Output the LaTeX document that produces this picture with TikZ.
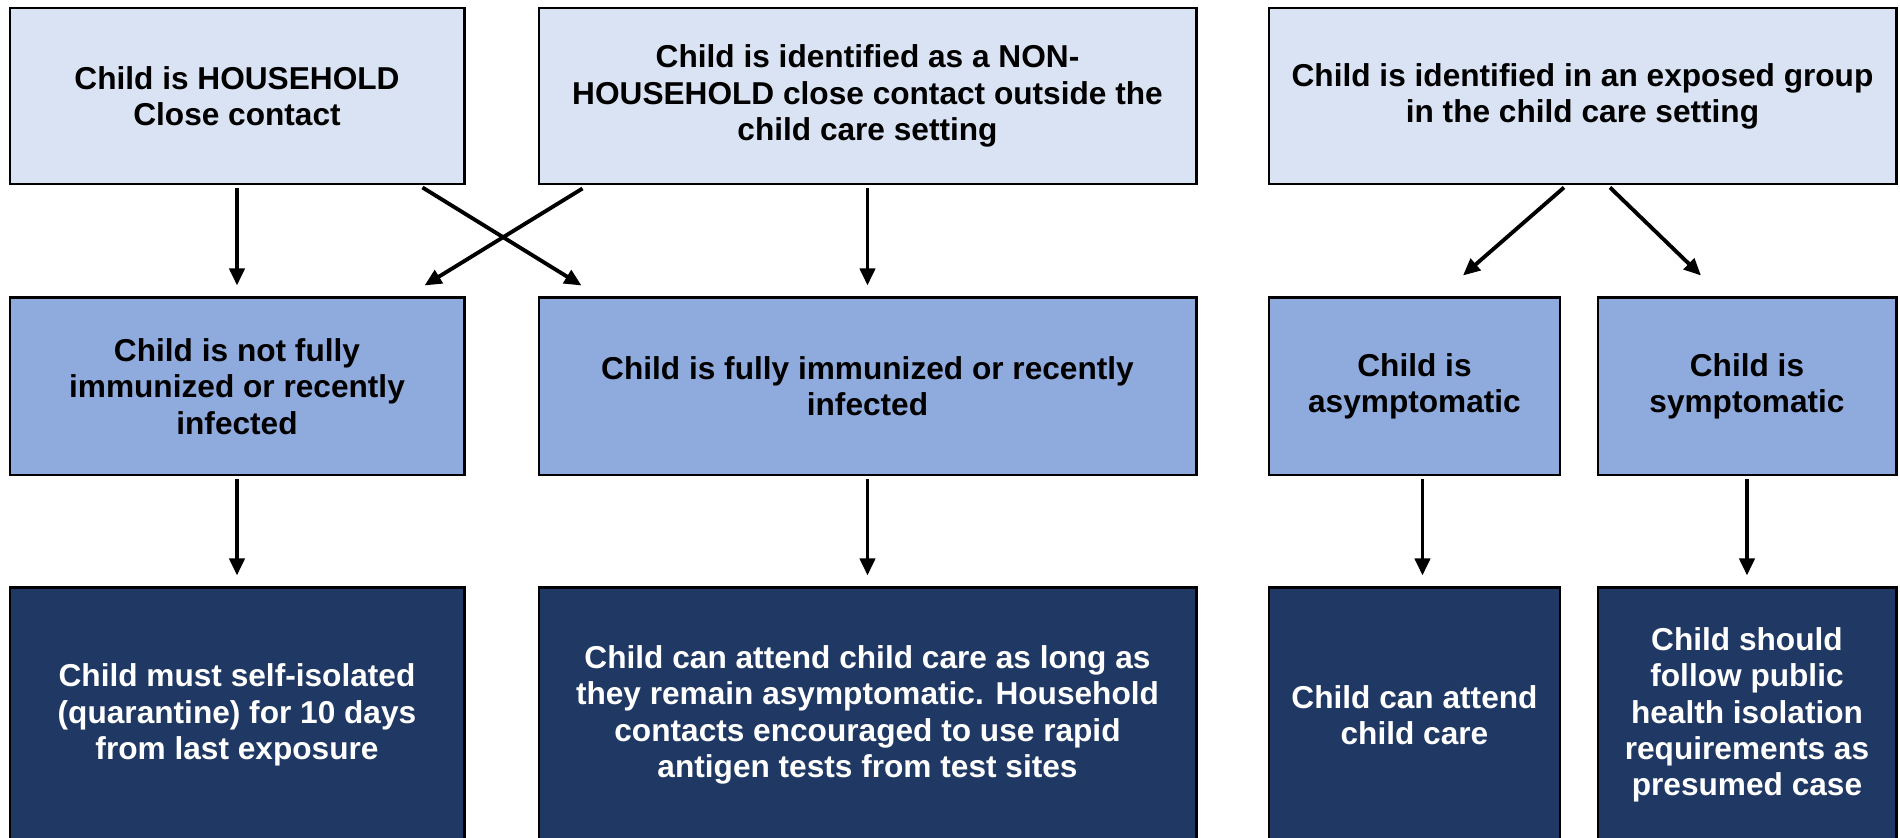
\documentclass[tikz,border=0pt]{standalone}
\usepackage{fontspec}
\setmainfont{Liberation Sans}
\usepackage{tikz}
\usetikzlibrary{arrows.meta, positioning}
\definecolor{hdrblue}{RGB}{218,227,243}
\definecolor{midblue}{RGB}{143,170,220}
\definecolor{navy}{RGB}{32,56,100}
\tikzset{
  topbox/.style={rectangle, draw=black, fill=hdrblue, align=center,
    minimum height=1.76cm, inner sep=0pt,
    font=\fontsize{9}{10.3}\selectfont\bfseries, line width=0.85pt},
  midbox/.style={rectangle, draw=black, fill=midblue, align=center,
    minimum height=1.77cm, inner sep=0pt,
    font=\fontsize{9}{10.3}\selectfont\bfseries, line width=0.85pt},
  navybox/.style={rectangle, draw=black, fill=navy, text=white, align=center,
    minimum height=2.54cm, inner sep=0pt,
    font=\fontsize{9}{10.3}\selectfont\bfseries, line width=0.85pt},
  arrow/.style={-{Triangle[length=0.17cm, width=0.15cm]}, line width=1.1pt, color=black},
  downarrow/.style={arrow, shorten <=0.03cm, shorten >=0.11cm}
}

\begin{document}
\begin{tikzpicture}[node distance=1.11cm and 0.72cm]
  \useasboundingbox (0,0) rectangle (19,-8.37);
  % first row
  \node[topbox, minimum width=4.54cm] (hh) at (2.37,-0.96) {Child is HOUSEHOLD\\Close contact};
  \node[topbox, minimum width=6.57cm, right=of hh] (nonhh) {Child is identified as a NON-\\HOUSEHOLD close contact outside the\\child care setting};
  \node[topbox, minimum width=6.27cm, right=0.70cm of nonhh] (grp) {Child is identified in an exposed group\\in the child care setting};
  % second row
  \node[midbox, minimum width=4.54cm, below=of hh] (notimm) {Child is not fully\\immunized or recently\\infected};
  \node[midbox, minimum width=6.57cm, below=of nonhh] (imm) {Child is fully immunized or recently\\infected};
  \node[midbox, minimum width=2.91cm, below=1.11cm of grp.south west, anchor=north west] (asym) {Child is\\asymptomatic};
  \node[midbox, minimum width=2.98cm, below=1.11cm of grp.south east, anchor=north east] (sym) {Child is\\symptomatic};
  % third row
  \node[navybox, minimum width=4.54cm, below=1.10cm of notimm] (quar) {Child must self-isolated\\(quarantine) for 10 days\\from last exposure};
  \node[navybox, minimum width=6.57cm, below=1.10cm of imm] (attend) {Child can attend child care as long as\\they remain asymptomatic. Household\\contacts encouraged to use rapid\\antigen tests from test sites};
  \node[navybox, minimum width=2.91cm, below=1.10cm of asym] (canatt) {Child can attend\\child care};
  \node[navybox, minimum width=2.98cm, below=1.10cm of sym] (presum) {Child should\\follow public\\health isolation\\requirements as\\presumed case};
  % arrows
  \draw[downarrow] (hh) -- (notimm);
  \draw[downarrow] (nonhh) -- (imm);
  \draw[arrow] ([xshift=-0.43cm, yshift=-0.02cm]hh.south east) -- ([xshift=0.44cm, yshift=0.11cm]imm.north west);
  \draw[arrow] ([xshift=0.45cm, yshift=-0.03cm]nonhh.south west) -- ([xshift=-0.41cm, yshift=0.11cm]notimm.north east);
  \draw[arrow] ([xshift=-0.185cm, yshift=-0.02cm]grp.south) -- ([xshift=0.485cm, yshift=0.21cm]asym.north);
  \draw[arrow] ([xshift=0.275cm, yshift=-0.02cm]grp.south) -- ([xshift=-0.46cm, yshift=0.21cm]sym.north);
  \draw[downarrow] (notimm) -- (quar);
  \draw[downarrow] (imm) -- (attend);
  \draw[downarrow] ([xshift=0.08cm]asym.south) -- ([xshift=0.08cm]canatt.north);
  \draw[downarrow] (sym) -- (presum);
\end{tikzpicture}
\end{document}
